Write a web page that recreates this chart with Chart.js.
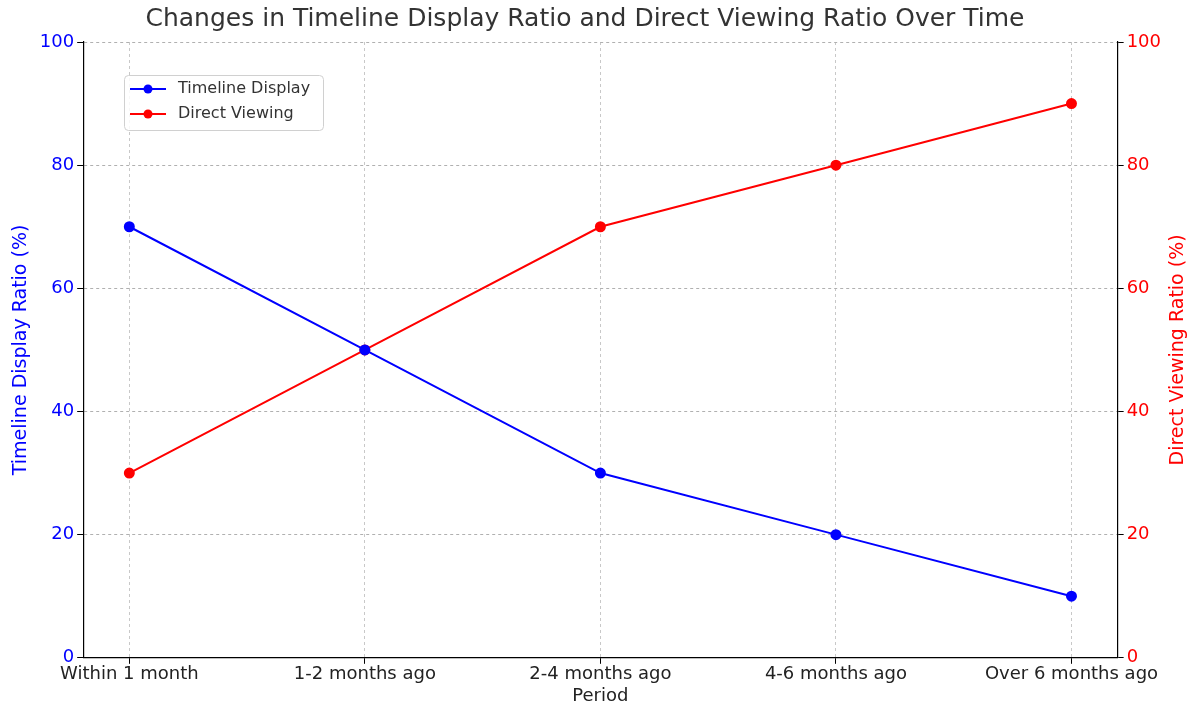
<!DOCTYPE html>
<html>
<head>
<meta charset="utf-8">
<script src="https://cdn.jsdelivr.net/npm/chart.js@4"></script>
<style>
  html, body { margin: 0; padding: 0; background: #fff; }
  #wrap { width: 1200px; height: 715px; }
</style>
</head>
<body>
<div id="wrap"><canvas id="c"></canvas></div>
<script>
const periods = ['Within 1 month', '1-2 months ago', '2-4 months ago', '4-6 months ago', 'Over 6 months ago'];
const timelineDisplay = [70, 50, 30, 20, 10];
const directViewing = [30, 50, 70, 80, 90];

const FONT = 'DejaVu Sans';
const toXY = arr => arr.map((v, i) => ({ x: i, y: v }));

// Legend box inside the plot + right axis title read bottom-to-top
const extras = {
  id: 'extras',
  afterDraw(chart) {
    const ctx = chart.ctx;
    const x = 124, y = 75, w = 199, h = 55;
    ctx.save();
    ctx.fillStyle = 'rgba(255,255,255,0.85)';
    ctx.strokeStyle = '#d0d0d0';
    ctx.lineWidth = 1;
    ctx.beginPath();
    ctx.roundRect(x + 0.5, y + 0.5, w, h, 4);
    ctx.fill();
    ctx.stroke();
    chart.data.datasets.forEach((ds, i) => {
      const cy = y + 14 + i * 25;
      ctx.strokeStyle = ds.borderColor;
      ctx.lineWidth = 2;
      ctx.beginPath();
      ctx.moveTo(x + 6, cy);
      ctx.lineTo(x + 42, cy);
      ctx.stroke();
      ctx.fillStyle = ds.borderColor;
      ctx.beginPath();
      ctx.arc(x + 24, cy, 4.5, 0, Math.PI * 2);
      ctx.fill();
      ctx.fillStyle = '#333';
      ctx.font = '16px ' + FONT;
      ctx.textBaseline = 'middle';
      ctx.fillText(ds.label, x + 54, cy);
    });
    const a = chart.chartArea;
    ctx.translate(1178, (a.top + a.bottom) / 2);
    ctx.rotate(-Math.PI / 2);
    ctx.fillStyle = '#ff0000';
    ctx.font = '19px ' + FONT;
    ctx.textAlign = 'center';
    ctx.textBaseline = 'middle';
    ctx.fillText('Direct Viewing Ratio (%)', 0, 0);
    ctx.restore();
  }
};

new Chart(document.getElementById('c'), {
  type: 'line',
  data: {
    datasets: [
      { label: 'Timeline Display', data: toXY(timelineDisplay), yAxisID: 'y',
        borderColor: '#0000ff', backgroundColor: '#0000ff', borderWidth: 2,
        pointRadius: 4.5, pointHoverRadius: 4.5, tension: 0 },
      { label: 'Direct Viewing', data: toXY(directViewing), yAxisID: 'y1',
        borderColor: '#ff0000', backgroundColor: '#ff0000', borderWidth: 2,
        pointRadius: 4.5, pointHoverRadius: 4.5, tension: 0 }
    ]
  },
  options: {
    responsive: true,
    maintainAspectRatio: false,
    animation: false,
    layout: { padding: { top: 4, left: 6, right: 36, bottom: 4 } },
    plugins: {
      legend: { display: false },
      tooltip: { enabled: false },
      title: { display: true, text: 'Changes in Timeline Display Ratio and Direct Viewing Ratio Over Time',
        color: '#333', font: { family: FONT, size: 25, weight: 'normal' }, padding: { top: 0, bottom: 8 } }
    },
    scales: {
      x: {
        type: 'linear', min: -0.196, max: 4.196,
        afterBuildTicks: axis => { axis.ticks = periods.map((_, i) => ({ value: i })); },
        ticks: { color: '#222', font: { family: FONT, size: 18 }, maxRotation: 0, padding: 0,
          callback: v => periods[v] ?? '' },
        grid: { color: '#c8c8c8', lineWidth: 1, tickLength: 6, tickColor: '#000' },
        border: { color: '#000', width: 1.2, dash: [3, 3] },
        title: { display: true, text: 'Period', color: '#222', font: { family: FONT, size: 18 }, padding: { top: 0 } }
      },
      y: {
        position: 'left', min: 0, max: 100,
        ticks: { stepSize: 20, color: '#0000ff', font: { family: FONT, size: 18 } },
        grid: { color: '#b0b0b0', lineWidth: 1, tickLength: 6, tickColor: '#000' },
        border: { color: '#000', width: 1.2, dash: [3, 3] },
        title: { display: true, text: 'Timeline Display Ratio (%)', color: '#0000ff', font: { family: FONT, size: 19 } }
      },
      y1: {
        position: 'right', min: 0, max: 100,
        ticks: { stepSize: 20, color: '#ff0000', font: { family: FONT, size: 18 } },
        grid: { drawOnChartArea: false, tickLength: 6, color: '#000' },
        border: { color: '#000', width: 1.2 }
      }
    }
  },
  plugins: [extras]
});
</script>
</body>
</html>
